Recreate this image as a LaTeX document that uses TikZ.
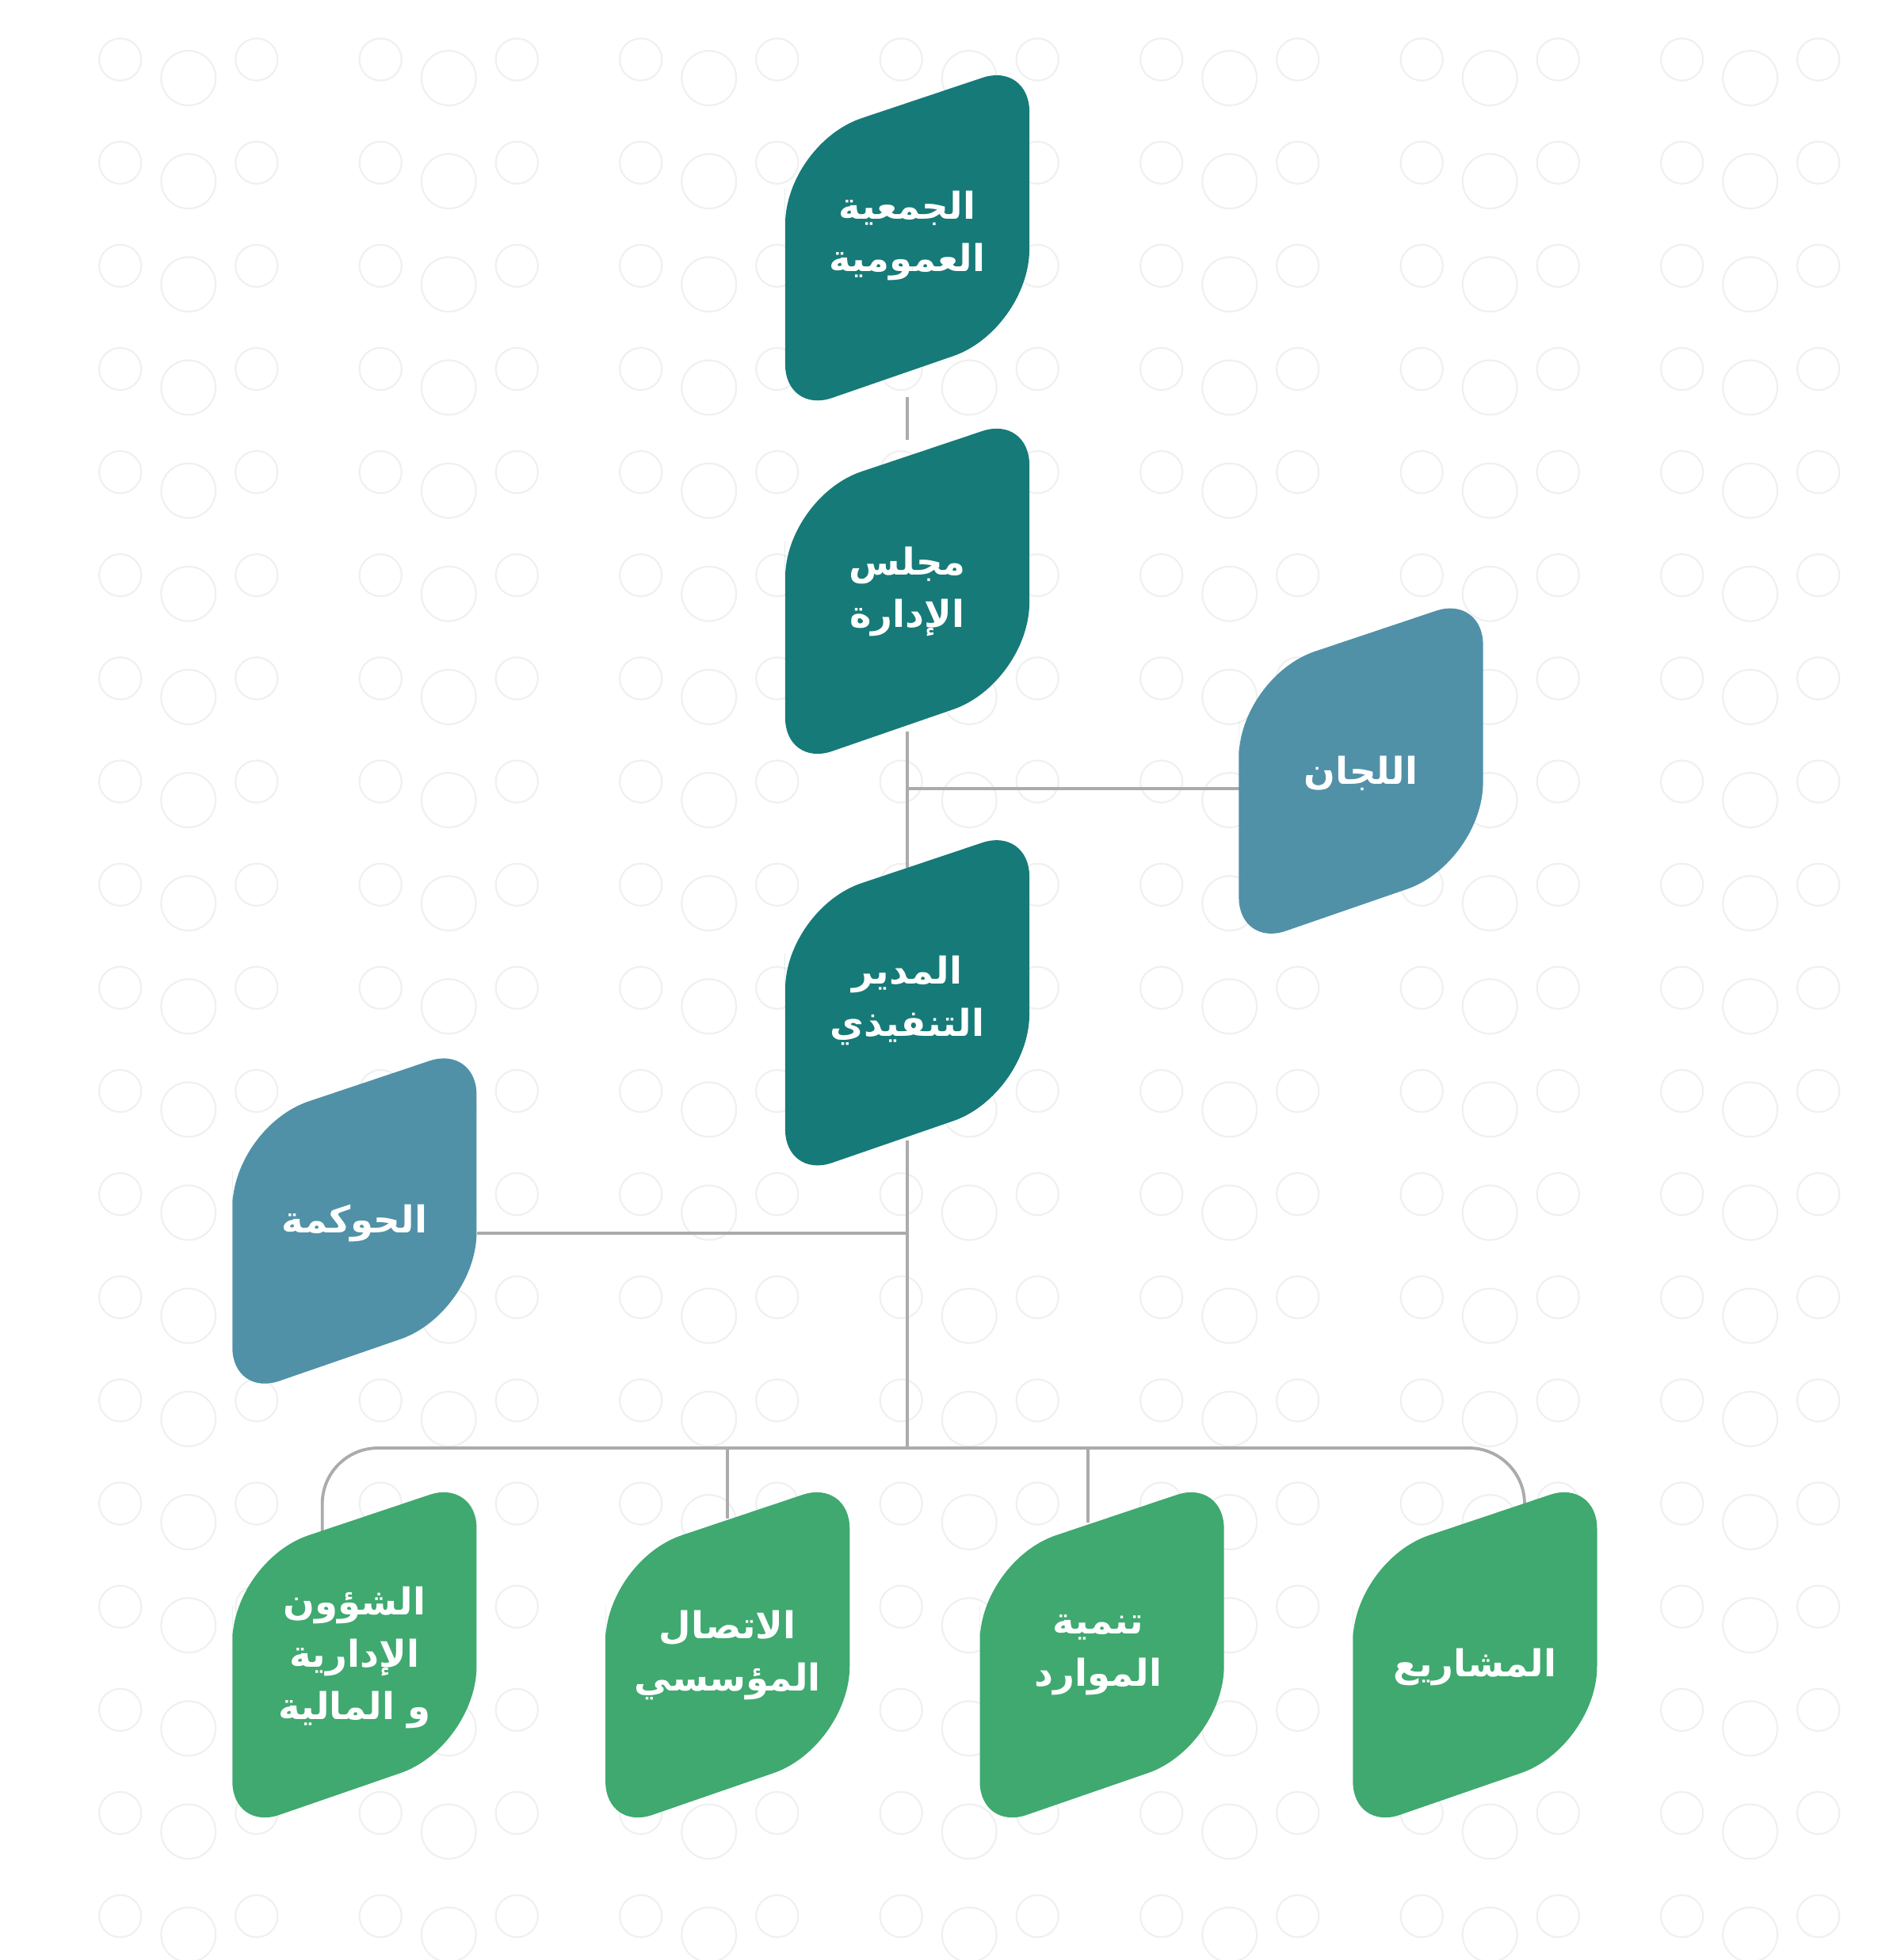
\documentclass[tikz,border=0pt]{standalone}
\usepackage{fontspec}
\newfontfamily\arabicfont[Script=Arabic]{DejaVu Sans}
\TeXXeTstate=1
\usetikzlibrary{calc}
\definecolor{teal1}{HTML}{167A78}
\definecolor{blue1}{HTML}{5091A8}
\definecolor{green1}{HTML}{3FA96F}
\definecolor{wire}{HTML}{ABABAB}
\definecolor{dot}{HTML}{F0F0F0}
\newcommand\rtl[1]{\beginR #1\endR}
\tikzset{
  pics/unit/.style={code={
    \fill[#1] (-98.5,0) [rounded corners=1.3cm] -- (-98.5,-76) [rounded corners=0.8cm] -- (98.5,-142)
      [rounded corners=1.3cm] -- (98.5,74) [rounded corners=0.8cm] -- (-98.5,142) -- cycle;}},
  label/.style={text=white,align=center,font=\arabicfont\bfseries\fontsize{17}{24}\selectfont},
  conn/.style={draw=wire,line width=1.4pt}
}
\begin{document}
\begin{tikzpicture}[x=0.02cm,y=-0.02cm]
\useasboundingbox (0,0) rectangle (1530,1581);
% background dots
\foreach \r in {0,...,18}{
  \foreach \k in {0,...,6}{
    \draw[dot,line width=0.8pt] ({152+210*\k},{63+83.2*\r}) circle (22);
    \draw[dot,line width=0.8pt] ({97+210*\k},{48+83.2*\r}) circle (17);
    \draw[dot,line width=0.8pt] ({207+210*\k},{48+83.2*\r}) circle (17);
  }}
% connectors
\coordinate (gaBot) at (732,320);
\coordinate (boTop) at (732,355);
\coordinate (boBot) at (732,590);
\coordinate (ceoTop) at (732,700);
\coordinate (ceoBot) at (732,920);
\coordinate (lj) at (1000,636);
\coordinate (ljJ) at (732,636);
\coordinate (hk) at (385,995);
\coordinate (hkJ) at (732,995);
\coordinate (bus) at (732,1168);
\coordinate (d1) at (260,1235);
\coordinate (d2) at (587,1225);
\coordinate (d3) at (878,1228);
\coordinate (d4) at (1230,1215);
\draw[conn] (gaBot) -- (boTop);
\draw[conn] (boBot) -- (ceoTop);
\draw[conn] (ljJ) -- (lj);
\draw[conn] (ceoBot) -- (bus);
\draw[conn] (hkJ) -- (hk);
\draw[conn,rounded corners=0.9cm] (d1) |- (bus) -| (d4);
\draw[conn] (d2 |- bus) -- (d2);
\draw[conn] (d3 |- bus) -- (d3);
% boxes
\pic at (732,192) {unit=teal1};
\pic at (732,477) {unit=teal1};
\pic at (732,809) {unit=teal1};
\pic at (1098,622) {unit=blue1};
\pic at (286,985) {unit=blue1};
\pic at (286,1335) {unit=green1};
\pic at (587,1335) {unit=green1};
\pic at (889,1335) {unit=green1};
\pic at (1190,1335) {unit=green1};
% labels
\node[label] (ga) at (732,190) {\rtl{الجمعية}\\\rtl{العمومية}};
\node[label] (bo) at (732,477) {\rtl{مجلس}\\\rtl{الإدارة}};
\node[label] (ceo) at (732,807) {\rtl{المدير}\\\rtl{التنفيذي}};
\node[label] (com) at (1098,624) {\rtl{اللجان}};
\node[label] (gov) at (286,987) {\rtl{الحوكمة}};
\node[label] (adm) at (286,1337) {\rtl{الشؤون}\\\rtl{الإدارية}\\\rtl{و المالية}};
\node[label] (comm) at (587,1335) {\rtl{الاتصال}\\\rtl{المؤسسي}};
\node[label] (res) at (886,1335) {\rtl{تنمية}\\\rtl{الموارد}};
\node[label] (proj) at (1190,1345) {\rtl{المشاريع}};
\end{tikzpicture}
\end{document}
